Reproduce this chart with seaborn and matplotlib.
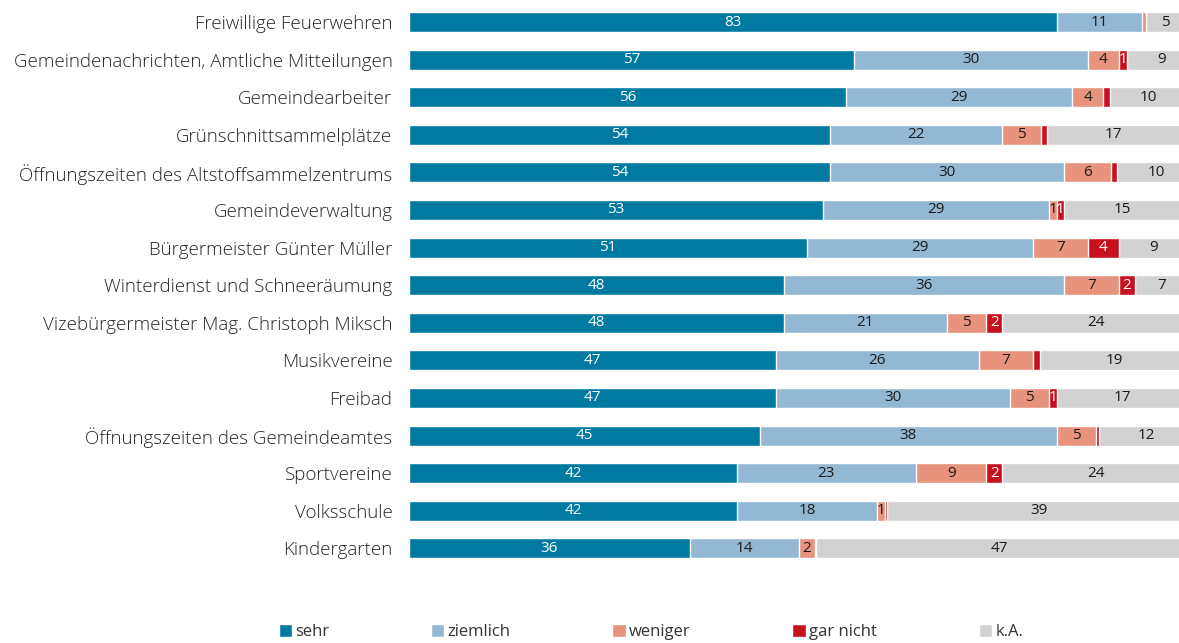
import numpy as np
import matplotlib
matplotlib.use('Agg')
import matplotlib.pyplot as plt
from matplotlib.patches import Patch
import seaborn as sns

# Data (percent)
categories = ['Freiwillige Feuerwehren', 'Gemeindenachrichten, Amtliche Mitteilungen',
              'Gemeindearbeiter', 'Grünschnittsammelplätze',
              'Öffnungszeiten des Altstoffsammelzentrums', 'Gemeindeverwaltung',
              'Bürgermeister Günter Müller', 'Winterdienst und Schneeräumung',
              'Vizebürgermeister Mag. Christoph Miksch', 'Musikvereine', 'Freibad',
              'Öffnungszeiten des Gemeindeamtes', 'Sportvereine', 'Volksschule', 'Kindergarten']
sehr = [83, 57, 56, 54, 54, 53, 51, 48, 48, 47, 47, 45, 42, 42, 36]
ziemlich = [11, 30, 29, 22, 30, 29, 29, 36, 21, 26, 30, 38, 23, 18, 14]
weniger = [0.5, 4, 4, 5, 6, 1, 7, 7, 5, 7, 5, 5, 9, 1, 2]
gar_nicht = [0, 1, 0.8, 0.8, 0.8, 1, 4, 2, 2, 0.9, 1, 0.5, 2, 0.3, 0.2]
ka = [5, 9, 10, 17, 10, 15, 9, 7, 24, 19, 17, 12, 24, 39, 47]

series = ['sehr', 'ziemlich', 'weniger', 'gar nicht', 'k.A.']
values = [sehr, ziemlich, weniger, gar_nicht, ka]
colors = ['#007AA0', '#93B8D4', '#E8937D', '#C9101F', '#D2D2D2']
text_colors = ['white', '#1a1a1a', '#1a1a1a', 'white', '#1a1a1a']

sns.set_style('white')
plt.rcParams['font.family'] = ['Open Sans', 'DejaVu Sans']

fig = plt.figure(figsize=(11.79, 6.43), dpi=100)
ax = fig.add_axes([0.347, 0.118, 0.653, 0.877])

vals = np.array(values, dtype=float)
cum = np.cumsum(vals, axis=0)

# draw cumulative bars from widest to narrowest so they stack visually
for k in range(len(series) - 1, -1, -1):
    sns.barplot(x=cum[k], y=categories, orient='h', color=colors[k],
                width=0.53, saturation=1, ax=ax)

# segment labels
for k in range(len(series)):
    left = cum[k] - vals[k]
    for i, v in enumerate(vals[k]):
        if v >= 1:
            ax.text(left[i] + v / 2, i, f'{v:.0f}', ha='center', va='center',
                    fontsize=11, color=text_colors[k])

ax.set_xlim(0, 98.7)
ax.set_ylim(14.5, -0.5)
ax.set_xlabel('')
ax.set_ylabel('')
ax.set_xticks([])
ax.tick_params(axis='y', length=0, pad=12, labelsize=13.5, labelcolor='#262626')
for lbl in ax.get_yticklabels():
    lbl.set_fontweight('light')
sns.despine(ax=ax, left=True, bottom=True)

handles = [Patch(facecolor=c, label=s) for s, c in zip(series, colors)]
fig.legend(handles=handles, loc='center', bbox_to_anchor=(0.552, 0.017), ncol=5,
           frameon=False, fontsize=12, handlelength=0.8, handleheight=0.8,
           handletextpad=0.2, columnspacing=6.1, labelcolor='#333333')

fig.savefig('out.png', dpi=100)
